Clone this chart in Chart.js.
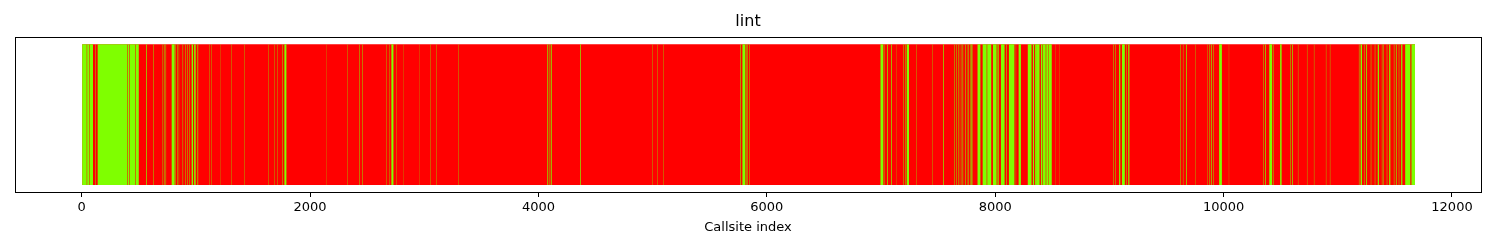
<!DOCTYPE html>
<html>
<head>
<meta charset="utf-8">
<title>lint</title>
<script src="https://cdn.jsdelivr.net/npm/chart.js@4/dist/chart.umd.min.js"></script>
<style>
  html, body { margin: 0; padding: 0; background: #fff; }
  #wrap { width: 1500px; height: 250px; }
</style>
</head>
<body>
<div id="wrap"><canvas id="lintChart" width="1500" height="250"></canvas></div>
<script>
// callsites, red by default, green runs as [start, end]
const chartTitle = "lint";
const axisTitle = "Callsite index";
const callsiteCount = 11676;
const xTicks = [0, 2000, 4000, 6000, 8000, 10000, 12000];
const xMin = -584;
const xMax = 12254;
const rowLabels = [""];

const greenRuns = [
  [0, 44], [48, 68], [72, 99], [121, 125], [140, 400], [404, 416], [420, 470], [474, 500],
  [566, 572], [628, 632], [709, 713], [724, 728], [735, 739], [788, 814], [820, 824],
  [835, 839], [850, 853], [884, 888], [908, 912],
  [926, 930], [944, 948], [963, 975], [985, 998], [1014, 1020], [1119, 1122], [1137, 1140],
  [1216, 1218], [1312, 1315], [1426, 1429], [1636, 1639], [1689, 1692], [1715, 1718],
  [1759, 1763], [1775, 1790], [1795, 1798],
  [2144, 2146], [2328, 2331], [2432, 2436], [2459, 2463], [2669, 2672], [2696, 2699],
  [2712, 2730], [2757, 2760], [2819, 2821], [2960, 2962],
  [3054, 3057], [3107, 3110], [3299, 3302],
  [4078, 4085], [4098, 4103], [4112, 4118], [4366, 4372],
  [4997, 5000], [5041, 5044], [5093, 5096], [5766, 5771], [5786, 5812], [5819, 5823],
  [5829, 5833], [5844, 5848],
  [6995, 7020], [7028, 7031], [7053, 7059], [7088, 7094], [7133, 7135], [7194, 7198],
  [7214, 7218], [7225, 7245], [7308, 7311], [7448, 7451], [7543, 7549],
  [7641, 7645], [7659, 7663], [7679, 7684], [7699, 7703], [7714, 7719], [7739, 7744],
  [7759, 7766], [7779, 7783], [7791, 7800],
  [7845, 7870], [7890, 7925], [7930, 7965], [7980, 8012], [8020, 8030], [8050, 8082],
  [8095, 8100], [8120, 8168], [8180, 8183], [8205, 8225], [8285, 8318], [8330, 8340],
  [8348, 8356], [8358, 8388], [8400, 8410], [8415, 8442], [8447, 8465], [8468, 8495],
  [8524, 8526], [8559, 8561],
  [9032, 9036], [9049, 9053], [9085, 9095], [9110, 9135], [9147, 9151], [9165, 9175],
  [9619, 9623], [9644, 9647], [9671, 9677],
  [9750, 9753], [9855, 9858], [9874, 9878], [9889, 9895], [9909, 9913], [9961, 9985],
  [10046, 10048], [10345, 10349], [10364, 10370], [10400, 10425], [10433, 10437],
  [10495, 10508], [10582, 10586], [10599, 10605], [10651, 10654],
  [10730, 10733], [10791, 10794], [10896, 10899], [10931, 10934], [11185, 11189],
  [11200, 11212], [11229, 11233], [11249, 11256], [11289, 11293], [11324, 11328],
  [11350, 11360], [11386, 11390], [11400, 11404], [11429, 11433], [11450, 11460],
  [11491, 11495], [11509, 11515], [11534, 11538], [11555, 11565], [11590, 11635],
  [11645, 11676]
];

const RED = "#ff0000";
const GREEN = "#7fff00";
const FONT = "'DejaVu Sans', sans-serif";

// black box around the plot area, like matplotlib spines
const frame = {
  id: "frame",
  afterDraw(chart) {
    const a = chart.chartArea;
    const c = chart.ctx;
    c.save();
    c.strokeStyle = "#000";
    c.lineWidth = 1;
    c.strokeRect(Math.round(a.left) + 0.5, Math.round(a.top) + 0.5,
      Math.round(a.right - a.left), Math.round(a.bottom - a.top));
    c.restore();
  }
};

const ctx = document.getElementById("lintChart").getContext("2d");

new Chart(ctx, {
  type: "bar",
  data: {
    labels: rowLabels,
    datasets: [
      {
        label: "red",
        data: [{ x: [0, callsiteCount], y: rowLabels[0] }],
        backgroundColor: RED,
        borderWidth: 0,
        grouped: false,
        order: 2,
        barPercentage: 1,
        categoryPercentage: 0.91
      },
      {
        label: "green",
        data: greenRuns.map(r => ({ x: r, y: rowLabels[0] })),
        backgroundColor: GREEN,
        borderWidth: 0,
        grouped: false,
        order: 1,
        barPercentage: 1,
        categoryPercentage: 0.91
      }
    ]
  },
  options: {
    indexAxis: "y",
    responsive: false,
    animation: false,
    layout: { padding: { left: 15, right: 19, top: 0, bottom: 0 } },
    plugins: {
      legend: { display: false },
      tooltip: { enabled: false },
      title: {
        display: true,
        text: chartTitle,
        color: "#000",
        font: { family: FONT, size: 16, weight: "normal" },
        padding: { top: 12, bottom: 6 }
      }
    },
    scales: {
      x: {
        type: "linear",
        min: xMin,
        max: xMax,
        afterBuildTicks: scale => {
          scale.ticks = xTicks.map(v => ({ value: v }));
        },
        afterFit: scale => { scale.height = 58; },
        grid: {
          display: true,
          drawOnChartArea: false,
          drawTicks: true,
          tickLength: 5,
          color: "#000"
        },
        border: { display: true, color: "#000", width: 1 },
        ticks: {
          color: "#000",
          padding: 3,
          maxRotation: 0,
          font: { family: FONT, size: 13 },
          callback: v => String(v)
        },
        title: {
          display: true,
          text: axisTitle,
          color: "#000",
          font: { family: FONT, size: 13 },
          padding: { top: 4, bottom: 15 }
        }
      },
      y: {
        display: false,
        offset: true
      }
    }
  },
  plugins: [frame]
});
</script>
</body>
</html>
